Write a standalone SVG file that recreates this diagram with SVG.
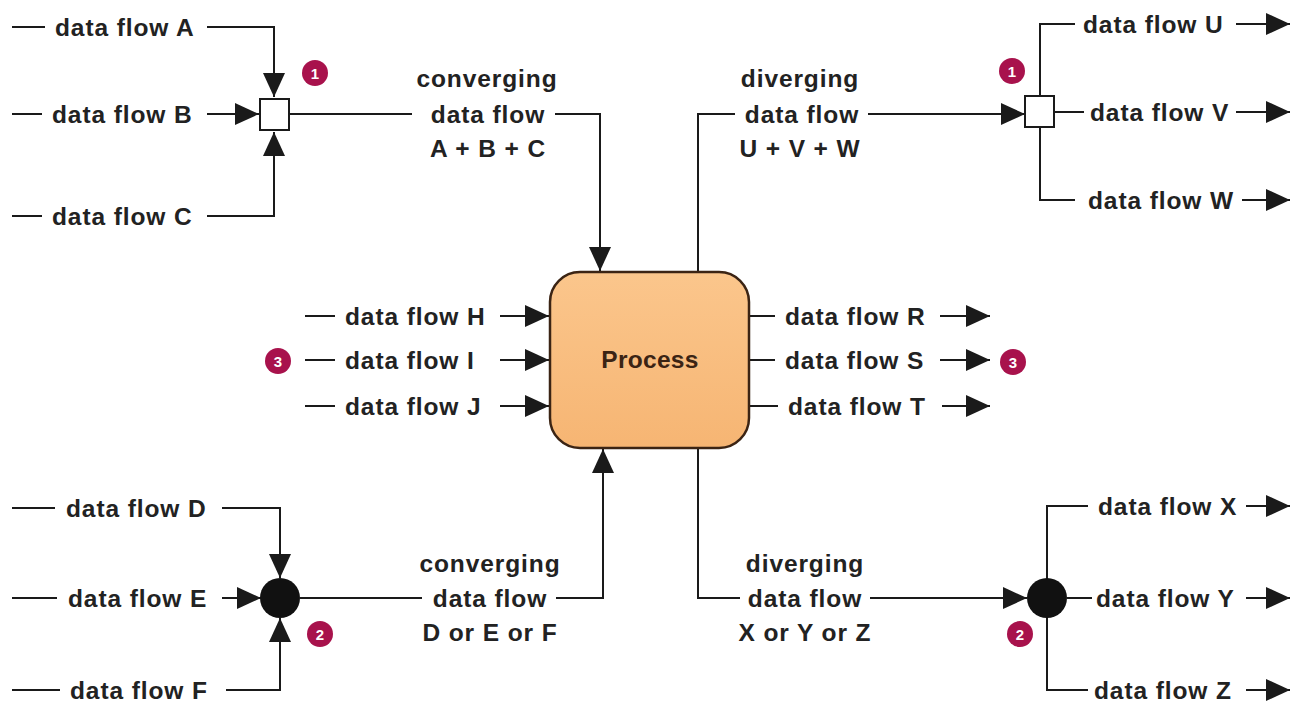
<svg xmlns="http://www.w3.org/2000/svg" width="1302" height="709" viewBox="0 0 1302 709">
<defs>
<marker id="ah" markerUnits="userSpaceOnUse" markerWidth="25" markerHeight="22" refX="24" refY="11" orient="auto" viewBox="0 0 25 22">
<path d="M0,0 L24,11 L0,22 Z" fill="#1a1a1a"/>
</marker>
<linearGradient id="pg" x1="0" y1="0" x2="0" y2="1">
<stop offset="0" stop-color="#fbc68c"/>
<stop offset="1" stop-color="#f6b573"/>
</linearGradient>
</defs>
<style>
.t{font-family:"Liberation Sans",Arial,sans-serif;font-weight:bold;font-size:24.5px;letter-spacing:0.9px;fill:#222;dominant-baseline:central}
.c{text-anchor:middle}
.l{fill:none;stroke:#1a1a1a;stroke-width:2}
.a{fill:none;stroke:#1a1a1a;stroke-width:2;marker-end:url(#ah)}
.b{fill:#a8124c}
.bt{font-family:"Liberation Sans",Arial,sans-serif;font-weight:bold;font-size:15px;fill:#fff;text-anchor:middle;dominant-baseline:central}
</style>
<rect width="1302" height="709" fill="#fff"/>
<g id="connectors">
<line class="l" x1="12" y1="27" x2="45" y2="27"/>
<path class="a" d="M207,27 H274 V97"/>
<line class="l" x1="12" y1="114" x2="42" y2="114"/>
<path class="a" d="M207,114 H259"/>
<line class="l" x1="12" y1="216" x2="42" y2="216"/>
<path class="a" d="M207,216 H274 V132"/>
<line class="l" x1="289" y1="114" x2="412" y2="114"/>
<path class="a" d="M555,114 H600 V271"/>
<path class="l" d="M735,114 H698 V272"/>
<path class="a" d="M868,114 H1025"/>
<path class="l" d="M1075,24 H1040 V200 H1075"/>
<path class="l" d="M1054,112 H1084"/>
<path class="a" d="M1236,24 H1290"/>
<path class="a" d="M1236,112 H1290"/>
<path class="a" d="M1242,200 H1290"/>
<line class="l" x1="305" y1="316" x2="335" y2="316"/>
<line class="l" x1="305" y1="360" x2="335" y2="360"/>
<line class="l" x1="305" y1="406" x2="335" y2="406"/>
<path class="a" d="M500,316 H549"/>
<path class="a" d="M500,360 H549"/>
<path class="a" d="M500,406 H549"/>
<line class="l" x1="750" y1="316" x2="775" y2="316"/>
<line class="l" x1="750" y1="360" x2="775" y2="360"/>
<line class="l" x1="750" y1="406" x2="778" y2="406"/>
<path class="a" d="M940,316 H990"/>
<path class="a" d="M940,360 H990"/>
<path class="a" d="M942,406 H990"/>
<line class="l" x1="12" y1="508" x2="55" y2="508"/>
<path class="a" d="M222,508 H280 V578"/>
<line class="l" x1="12" y1="598" x2="57" y2="598"/>
<path class="a" d="M222,598 H261"/>
<line class="l" x1="12" y1="690" x2="60" y2="690"/>
<path class="a" d="M226,690 H280 V618"/>
<line class="l" x1="300" y1="598" x2="422" y2="598"/>
<path class="a" d="M556,598 H603 V449"/>
<path class="l" d="M740,598 H698 V448"/>
<path class="a" d="M870,598 H1027"/>
<path class="l" d="M1088,506 H1047 V690 H1088"/>
<path class="l" d="M1067,598 H1092"/>
<path class="a" d="M1246,506 H1290"/>
<path class="a" d="M1246,598 H1290"/>
<path class="a" d="M1246,690 H1290"/>
</g>
<g id="process">
<rect x="550" y="272" width="199" height="176" rx="30" ry="30" fill="url(#pg)" stroke="#3b2414" stroke-width="2.5"/>
<text class="t c" x="650" y="359" style="fill:#3b2414;letter-spacing:0.3px">Process</text>
</g>
<g id="junction-tl"><rect x="260" y="99" width="29" height="31" fill="#fff" stroke="#1a1a1a" stroke-width="2"/></g>
<g id="junction-tr"><rect x="1025" y="96" width="29" height="31" fill="#fff" stroke="#1a1a1a" stroke-width="2"/></g>
<g id="junction-bl"><circle cx="280" cy="598" r="20" fill="#111"/></g>
<g id="junction-br"><circle cx="1047" cy="598" r="20" fill="#111"/></g>
<g id="labels">
<text class="t" x="55" y="27">data flow A</text>
<text class="t" x="52" y="114">data flow B</text>
<text class="t" x="52" y="216">data flow C</text>
<text class="t c" x="487" y="78">converging</text>
<text class="t c" x="488" y="114">data flow</text>
<text class="t c" x="488" y="148">A + B + C</text>
<text class="t c" x="800" y="78">diverging</text>
<text class="t c" x="802" y="114">data flow</text>
<text class="t c" x="800" y="148">U + V + W</text>
<text class="t" x="1083" y="24">data flow U</text>
<text class="t" x="1090" y="112">data flow V</text>
<text class="t" x="1088" y="200">data flow W</text>
<text class="t" x="345" y="316">data flow H</text>
<text class="t" x="345" y="360">data flow I</text>
<text class="t" x="345" y="406">data flow J</text>
<text class="t" x="785" y="316">data flow R</text>
<text class="t" x="785" y="360">data flow S</text>
<text class="t" x="788" y="406">data flow T</text>
<text class="t" x="66" y="508">data flow D</text>
<text class="t" x="68" y="598">data flow E</text>
<text class="t" x="70" y="690">data flow F</text>
<text class="t c" x="490" y="563">converging</text>
<text class="t c" x="490" y="598">data flow</text>
<text class="t c" x="490" y="632">D or E or F</text>
<text class="t c" x="805" y="563">diverging</text>
<text class="t c" x="805" y="598">data flow</text>
<text class="t c" x="805" y="632">X or Y or Z</text>
<text class="t" x="1098" y="506">data flow X</text>
<text class="t" x="1096" y="598">data flow Y</text>
<text class="t" x="1094" y="690">data flow Z</text>
</g>
<g id="badges">
<g id="badge-1a"><circle class="b" cx="315" cy="73" r="13"/><text class="bt" x="315" y="73">1</text></g>
<g id="badge-1b"><circle class="b" cx="1012" cy="71" r="13"/><text class="bt" x="1012" y="71">1</text></g>
<g id="badge-3"><circle class="b" cx="278" cy="361" r="13"/><text class="bt" x="278" y="361">3</text></g>
<g id="badge-3b"><circle class="b" cx="1013" cy="362" r="13"/><text class="bt" x="1013" y="362">3</text></g>
<g id="badge-2a"><circle class="b" cx="320" cy="634" r="13"/><text class="bt" x="320" y="634">2</text></g>
<g id="badge-2b"><circle class="b" cx="1020" cy="634" r="13"/><text class="bt" x="1020" y="634">2</text></g>
</g>
</svg>
